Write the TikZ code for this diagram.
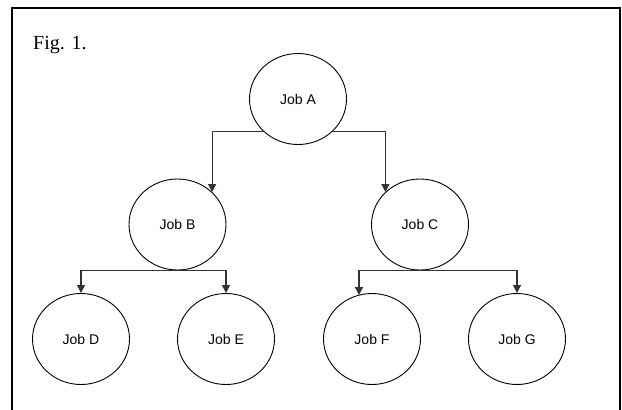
\documentclass[tikz,border=0pt]{standalone}
\usepackage{fontspec}
\setmainfont{Liberation Serif}
\newfontfamily\jobfont{Liberation Sans}
\usetikzlibrary{shapes.geometric,arrows.meta}

\begin{document}
\begin{tikzpicture}[x=1pt,y=-1pt]
\tikzstyle{job}=[draw,shape=ellipse,line width=0.9pt,inner sep=0pt,minimum width=97pt,minimum height=91pt,font=\jobfont\fontsize{14}{16}\selectfont]
\tikzstyle{link}=[draw=black!80,line width=1.2pt,->,>={Triangle[length=8pt,width=8pt]}]
\useasboundingbox (0,0) rectangle (622,410);
\draw[line width=2pt] (12,410) -- (12,8) -- (620,8) -- (620,410);
\path (33,49) node[anchor=base west,inner sep=0pt,font=\fontsize{20}{24}\selectfont](fig){Fig. 1.};

\path (298,99) node[job](a){Job A};
\path (177.5,224.5) node[job](b){Job B} (420,224.5) node[job](c){Job C};
\path (81,339) node[job](d){Job D} (226,339) node[job](e){Job E};
\path (372,339) node[job](f){Job F} (517,339) node[job](g){Job G};

\draw[link] (a.south west) -| (b.north east);
\draw[link] (a.south east) -| (c.north west);
\draw[link] (b.south) -| (d.north);
\draw[link] (b.south) -| (e.north);
\draw[link] (c.south) -| ([xshift=-13pt,yshift=-2pt]f.north);
\draw[link] (c.south) -| (g.north);
\end{tikzpicture}
\end{document}
